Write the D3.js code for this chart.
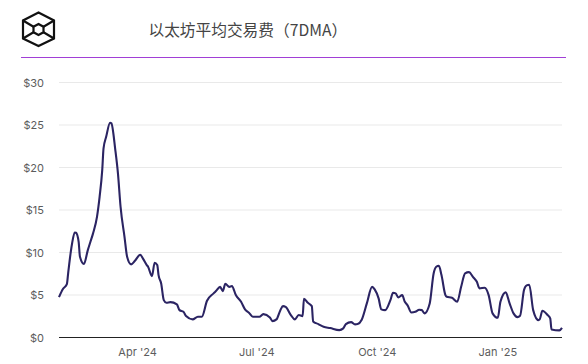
<!DOCTYPE html>
<html>
<head>
<meta charset="utf-8">
<script src="https://cdnjs.cloudflare.com/ajax/libs/d3/7.8.5/d3.min.js"></script>
<style>
	html, body { margin: 0; padding: 0; background: #fff; }
	text { font-family: Inter, "Noto Sans CJK SC", sans-serif; }
	.axis-label { font-size: 11px; fill: #5c5c5c; }
	.title { font-size: 15.7px; fill: #444; font-family: "Noto Sans CJK SC", sans-serif; }
</style>
</head>
<body>
<div id="chart"></div>
<script>
const titleText = '以太坊平均交易费（7DMA）';
const startDate = new Date(2024, 1, 1);
// days after startDate
const dayOffsets = [
	0, 3, 6, 7, 9, 10, 12, 13, 15, 16, 19, 22, 24, 26, 29, 31, 33, 34, 36, 39,
	40, 43, 45, 47, 50, 52, 55, 58, 62, 64, 67, 68, 71, 73, 75, 76, 78, 80, 82, 85,
	90, 92, 95, 97, 102, 106, 109, 113, 118, 120, 123, 125, 127, 130, 132, 135, 139, 142, 145, 148,
	153, 156, 161, 163, 166, 169, 171, 173, 177, 180, 183, 186, 187, 190, 193, 194, 198, 202, 207, 214,
	217, 219, 223, 226, 228, 231, 235, 239, 241, 244, 246, 249, 253, 255, 257, 259, 262, 264, 266, 269,
	272, 275, 277, 279, 283, 286, 288, 290, 292, 295, 296, 300, 304, 307, 310, 313, 316, 319, 321, 325,
	328, 331, 335, 337, 341, 344, 347, 350, 352, 355, 357, 359, 362, 366, 367, 369, 373, 375, 376, 382,
	384
];
const avgFee = [
	4.75, 5.7, 6.28, 7.58, 10.08, 11.07, 12.36, 12.32, 11.26, 9.49, 8.64, 10.28, 11.26, 12.25, 14.2, 16.55, 19.69, 22.25, 23.61, 25.26,
	25.19, 22.05, 19.31, 15.38, 11.85, 9.49, 8.6, 9.02, 9.73, 9.31, 8.52, 8.32, 7.22, 8.79, 8.52, 7.34, 6.36, 4.4, 4.08, 4.16,
	3.89, 3.22, 3.02, 2.52, 2.13, 2.44, 2.44, 4.32, 5.19, 5.49, 5.96, 5.46, 6.32, 5.96, 6.05, 4.99, 4.2, 3.31, 2.91, 2.44,
	2.44, 2.75, 2.36, 1.93, 2.13, 3.22, 3.69, 3.61, 2.64, 2.13, 2.64, 2.52, 4.55, 4.08, 3.69, 1.89, 1.58, 1.26, 1.11, 0.87,
	1.07, 1.58, 1.81, 1.54, 1.58, 2.05, 4.01, 5.96, 5.66, 4.6, 3.31, 3.22, 4.4, 5.26, 5.19, 4.72, 4.99, 4.2, 3.81, 2.95,
	3.02, 3.26, 3.22, 2.84, 4.01, 7.54, 8.32, 8.44, 7.34, 4.99, 4.79, 4.67, 4.2, 5.96, 7.54, 7.69, 7.14, 6.55, 5.78, 5.85,
	4.99, 2.84, 2.32, 4.2, 5.31, 4.01, 2.84, 2.4, 2.55, 5.58, 6.13, 6.2, 3.22, 2.05, 2.13, 3.14, 2.64, 2.25, 0.95, 0.84,
	1.14
];
const yTicks = [0, 5, 10, 15, 20, 25, 30];
const xTicks = [new Date(2024, 3, 1), new Date(2024, 6, 1), new Date(2024, 9, 1), new Date(2025, 0, 1)];

const width = 588;
const height = 364;
const margin = { top: 82.5, right: 26, bottom: 26.5, left: 59 };

const data = dayOffsets.map((d, i) => ({ date: d3.timeDay.offset(startDate, d), fee: avgFee[i] }));

const svg = d3.select('#chart').append('svg')
	.attr('width', width)
	.attr('height', height)
	.style('display', 'block');

const x = d3.scaleTime()
	.domain(d3.extent(data, d => d.date))
	.range([margin.left, width - margin.right]);
const y = d3.scaleLinear()
	.domain([0, 30])
	.range([height - margin.bottom, margin.top]);

// header
const logo = svg.append('g')
	.attr('transform', 'translate(38.5, 29.5)')
	.attr('fill', 'none')
	.attr('stroke', '#111')
	.attr('stroke-width', 2.2);
logo.append('path').attr('d', 'M0,-17 L15.5,-9 L15.5,9 L0,16.5 L-15.5,9 L-15.5,-9 Z');
logo.append('path').attr('d', 'M0,-5.5 L5,-2.8 L5,2.8 L0,5.5 L-5,2.8 L-5,-2.8 Z');
logo.append('path').attr('d', 'M-15.5,-9 L-5,-2.8 M15.5,-9 L5,-2.8 M-15.5,9 L-5,2.8 M15.5,9 L5,2.8');

svg.append('text')
	.attr('class', 'title')
	.attr('x', 148.5)
	.attr('y', 36)
	.text(titleText);

svg.append('line')
	.attr('x1', 21)
	.attr('x2', 566)
	.attr('y1', 57.5)
	.attr('y2', 57.5)
	.attr('stroke', '#a13fd6')
	.attr('stroke-width', 1);

// gridlines and axes
svg.append('g').selectAll('line')
	.data(yTicks)
	.enter().append('line')
		.attr('x1', margin.left)
		.attr('x2', width - margin.right)
		.attr('y1', d => y(d))
		.attr('y2', d => y(d))
		.attr('stroke', d => d === 0 ? '#222' : '#e9e9e9')
		.attr('stroke-width', 1);

svg.append('g').selectAll('text')
	.data(yTicks)
	.enter().append('text')
		.attr('class', 'axis-label')
		.attr('x', 44)
		.attr('y', d => y(d) + 4)
		.attr('text-anchor', 'end')
		.text(d => `$${d}`);

svg.append('g').selectAll('text')
	.data(xTicks)
	.enter().append('text')
		.attr('class', 'axis-label')
		.attr('x', d => x(d))
		.attr('y', 356)
		.attr('text-anchor', 'middle')
		.text(d => d3.timeFormat("%b '%y")(d));

// fee line
const line = d3.line()
	.curve(d3.curveMonotoneX)
	.x(d => x(d.date))
	.y(d => y(d.fee));
svg.append('path')
	.datum(data)
	.attr('fill', 'none')
	.attr('stroke', '#2b2463')
	.attr('stroke-width', 2.1)
	.attr('stroke-linejoin', 'round')
	.attr('d', line);
</script>
</body>
</html>
